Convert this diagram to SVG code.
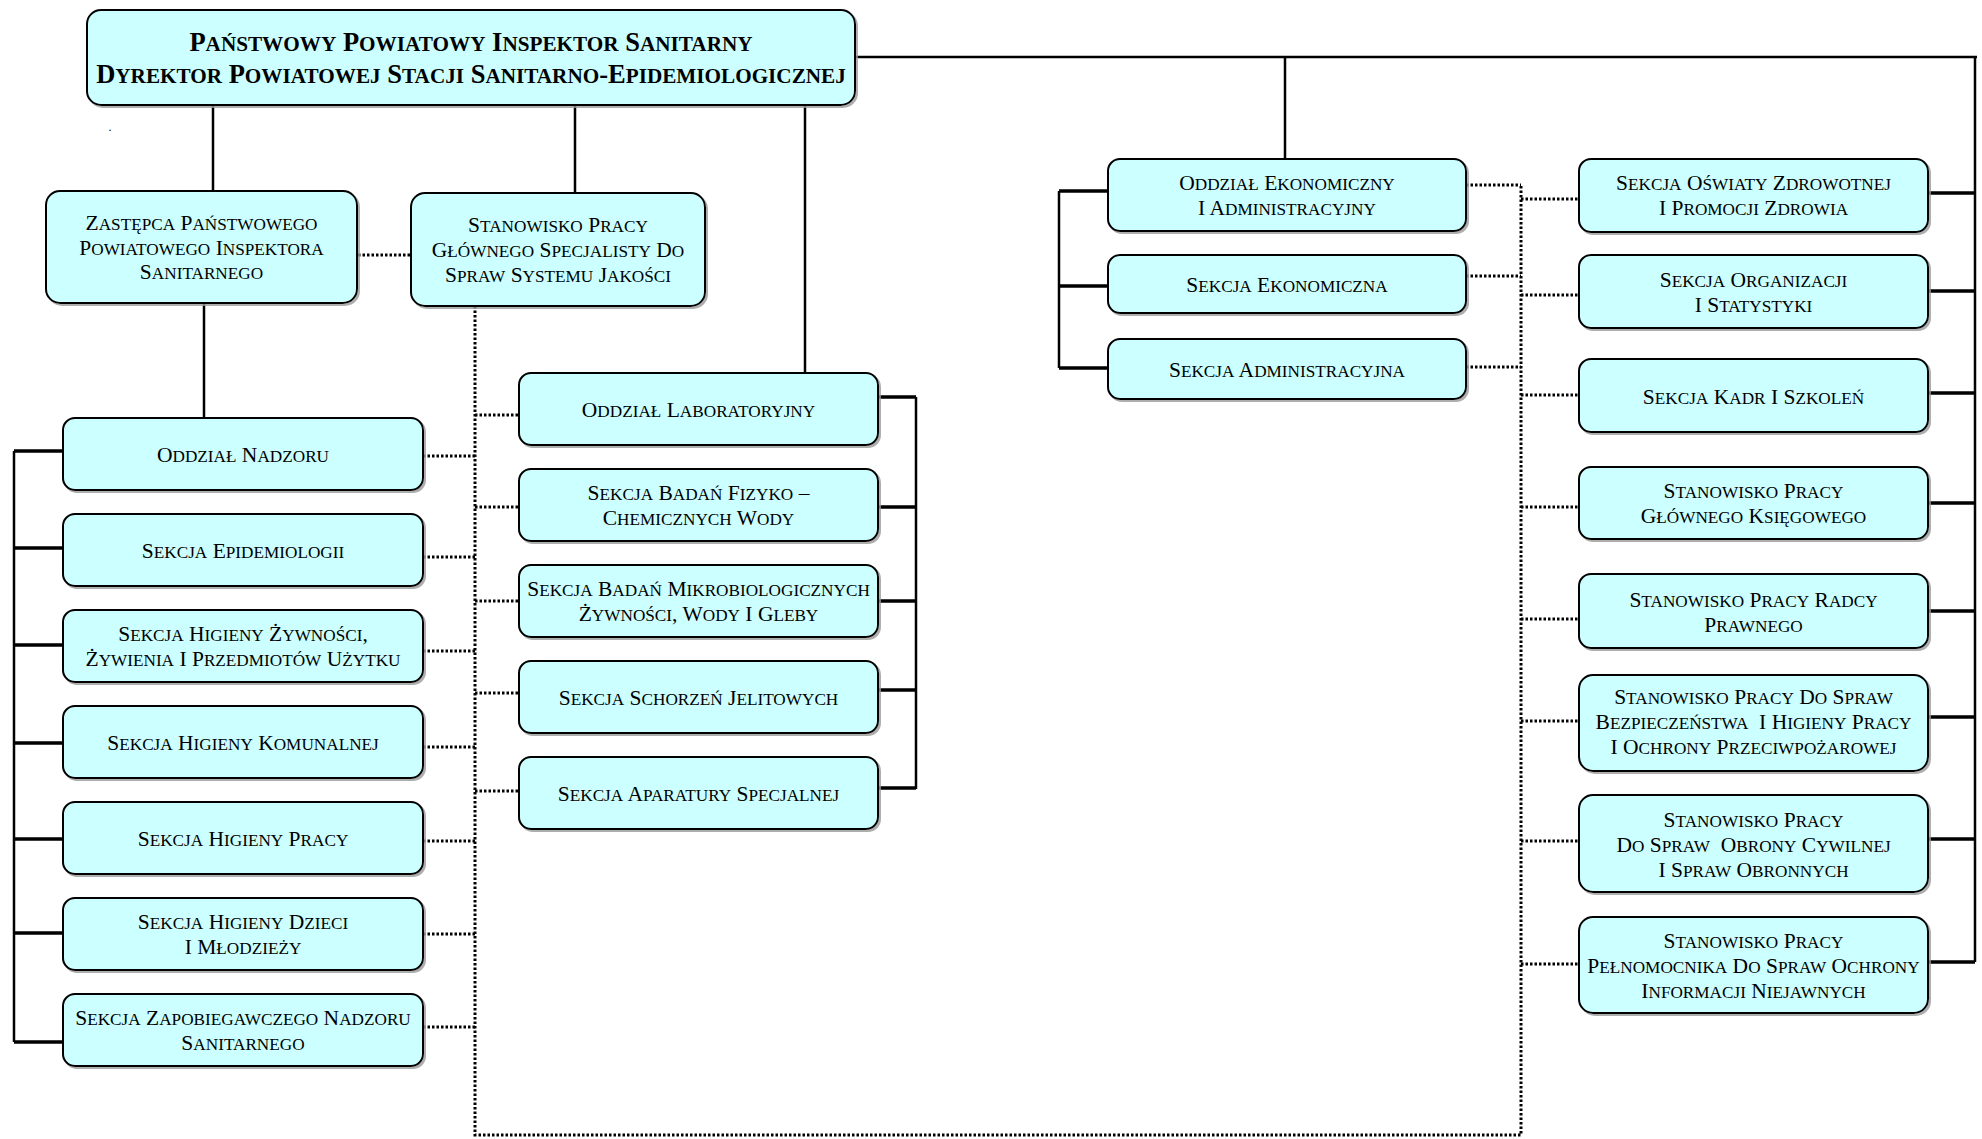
<svg xmlns="http://www.w3.org/2000/svg" width="1982" height="1139" viewBox="0 0 1982 1139">
<defs>
<filter id="sh" x="-5%" y="-5%" width="110%" height="115%">
<feDropShadow dx="2" dy="2" stdDeviation="0.6" flood-color="#9a9a9a" flood-opacity="0.8"/>
</filter>
</defs>
<style>
.box{fill:#CCFFFF;stroke:#000;stroke-width:2;filter:url(#sh)}
.t{font-family:"Liberation Serif","Times New Roman",serif;font-size:21.5px;text-anchor:middle;fill:#000}
.s{font-size:17.2px}
.title{font-weight:bold;font-size:26.5px}
.title .s{font-size:21.2px}
.ln{stroke:#000;stroke-width:2.5;fill:none}
.br{stroke:#000;stroke-width:3.5;fill:none}
.dt{stroke:#000;stroke-width:3;stroke-dasharray:2.5 2;fill:none}
</style>
<rect width="1982" height="1139" fill="#fff"/>

<g id="connectors">
<path class="ln" d="M213 104V191 M575 105V193 M805 104V373 M204 303V418 M855 57H1977 M1975 57V962 M1285 57V159"/>
<path class="ln" d="M14 451V1042 M916 397V789 M1059 191V368"/>
<path class="br" d="M14 451H63 M14 548H63 M14 645H63 M14 743H63 M14 839H63 M14 933H63 M14 1042H63"/>
<path class="br" d="M878 397H916 M878 507H916 M878 601H916 M878 690H916 M878 788H916"/>
<path class="br" d="M1059 191H1108 M1059 286H1108 M1059 368H1108"/>
<path class="br" d="M1928 193H1975 M1928 291H1975 M1928 393H1975 M1928 503H1975 M1928 611H1975 M1928 717H1975 M1928 839H1975 M1928 962H1975"/>
<path class="dt" d="M358 255H410 M475 306V1135 H1521 V185"/>
<path class="dt" d="M423 456H475 M423 557H475 M423 651H475 M423 747H475 M423 841H475 M423 934H475 M423 1027H475"/>
<path class="dt" d="M475 415H519 M475 507H519 M475 601H519 M475 693H519 M475 791H519"/>
<path class="dt" d="M1466 185H1521 M1466 276H1521 M1466 367H1521"/>
<path class="dt" d="M1521 199H1579 M1521 295H1579 M1521 395H1579 M1521 507H1579 M1521 619H1579 M1521 721H1579 M1521 841H1579 M1521 964H1579"/>
</g>

<text class="t" x="110" y="131" style="font-size:12px">.</text>

<g id="main">
<rect class="box" x="87" y="10" width="768" height="95" rx="14"/>
<text class="t title" x="471" y="51">P<tspan class="s">AŃSTWOWY</tspan> P<tspan class="s">OWIATOWY</tspan> I<tspan class="s">NSPEKTOR</tspan> S<tspan class="s">ANITARNY</tspan></text>
<text class="t title" x="471" y="83">D<tspan class="s">YREKTOR</tspan> P<tspan class="s">OWIATOWEJ</tspan> S<tspan class="s">TACJI</tspan> S<tspan class="s">ANITARNO</tspan>-E<tspan class="s">PIDEMIOLOGICZNEJ</tspan></text>
</g>

<g id="zastepca">
<rect class="box" x="46" y="191" width="311" height="112" rx="14"/>
<text class="t" x="201.5" y="230">Z<tspan class="s">ASTĘPCA</tspan> P<tspan class="s">AŃSTWOWEGO</tspan></text>
<text class="t" x="201.5" y="255">P<tspan class="s">OWIATOWEGO</tspan> I<tspan class="s">NSPEKTORA</tspan></text>
<text class="t" x="201.5" y="279">S<tspan class="s">ANITARNEGO</tspan></text>
</g>

<g id="specjalista">
<rect class="box" x="411" y="193" width="294" height="113" rx="14"/>
<text class="t" x="558" y="232">S<tspan class="s">TANOWISKO</tspan> P<tspan class="s">RACY</tspan></text>
<text class="t" x="558" y="257">G<tspan class="s">ŁÓWNEGO</tspan> S<tspan class="s">PECJALISTY</tspan> D<tspan class="s">O</tspan></text>
<text class="t" x="558" y="282">S<tspan class="s">PRAW</tspan> S<tspan class="s">YSTEMU</tspan> J<tspan class="s">AKOŚCI</tspan></text>
</g>

<g id="nadzor">
<rect class="box" x="63" y="418" width="360" height="72" rx="12"/>
<text class="t" x="243" y="462">O<tspan class="s">DDZIAŁ</tspan> N<tspan class="s">ADZORU</tspan></text>
</g>
<g id="epidemiologia">
<rect class="box" x="63" y="514" width="360" height="72" rx="12"/>
<text class="t" x="243" y="558">S<tspan class="s">EKCJA</tspan> E<tspan class="s">PIDEMIOLOGII</tspan></text>
</g>
<g id="zywnosc">
<rect class="box" x="63" y="610" width="360" height="72" rx="12"/>
<text class="t" x="243" y="641">S<tspan class="s">EKCJA</tspan> H<tspan class="s">IGIENY</tspan> Ż<tspan class="s">YWNOŚCI</tspan>,</text>
<text class="t" x="243" y="666">Ż<tspan class="s">YWIENIA</tspan> I P<tspan class="s">RZEDMIOTÓW</tspan> U<tspan class="s">ŻYTKU</tspan></text>
</g>
<g id="komunalna">
<rect class="box" x="63" y="706" width="360" height="72" rx="12"/>
<text class="t" x="243" y="750">S<tspan class="s">EKCJA</tspan> H<tspan class="s">IGIENY</tspan> K<tspan class="s">OMUNALNEJ</tspan></text>
</g>
<g id="praca">
<rect class="box" x="63" y="802" width="360" height="72" rx="12"/>
<text class="t" x="243" y="846">S<tspan class="s">EKCJA</tspan> H<tspan class="s">IGIENY</tspan> P<tspan class="s">RACY</tspan></text>
</g>
<g id="dzieci">
<rect class="box" x="63" y="898" width="360" height="72" rx="12"/>
<text class="t" x="243" y="929">S<tspan class="s">EKCJA</tspan> H<tspan class="s">IGIENY</tspan> D<tspan class="s">ZIECI</tspan></text>
<text class="t" x="243" y="954">I M<tspan class="s">ŁODZIEŻY</tspan></text>
</g>
<g id="zapobiegawczy">
<rect class="box" x="63" y="994" width="360" height="72" rx="12"/>
<text class="t" x="243" y="1025">S<tspan class="s">EKCJA</tspan> Z<tspan class="s">APOBIEGAWCZEGO</tspan> N<tspan class="s">ADZORU</tspan></text>
<text class="t" x="243" y="1050">S<tspan class="s">ANITARNEGO</tspan></text>
</g>

<g id="laboratorium">
<rect class="box" x="519" y="373" width="359" height="72" rx="12"/>
<text class="t" x="698.5" y="417">O<tspan class="s">DDZIAŁ</tspan> L<tspan class="s">ABORATORYJNY</tspan></text>
</g>
<g id="fizykochem">
<rect class="box" x="519" y="469" width="359" height="72" rx="12"/>
<text class="t" x="698.5" y="500">S<tspan class="s">EKCJA</tspan> B<tspan class="s">ADAŃ</tspan> F<tspan class="s">IZYKO</tspan> –</text>
<text class="t" x="698.5" y="525">C<tspan class="s">HEMICZNYCH</tspan> W<tspan class="s">ODY</tspan></text>
</g>
<g id="mikrobiologia">
<rect class="box" x="519" y="565" width="359" height="72" rx="12"/>
<text class="t" x="698.5" y="596">S<tspan class="s">EKCJA</tspan> B<tspan class="s">ADAŃ</tspan> M<tspan class="s">IKROBIOLOGICZNYCH</tspan></text>
<text class="t" x="698.5" y="621">Ż<tspan class="s">YWNOŚCI</tspan>, W<tspan class="s">ODY</tspan> I G<tspan class="s">LEBY</tspan></text>
</g>
<g id="jelitowe">
<rect class="box" x="519" y="661" width="359" height="72" rx="12"/>
<text class="t" x="698.5" y="705">S<tspan class="s">EKCJA</tspan> S<tspan class="s">CHORZEŃ</tspan> J<tspan class="s">ELITOWYCH</tspan></text>
</g>
<g id="aparatura">
<rect class="box" x="519" y="757" width="359" height="72" rx="12"/>
<text class="t" x="698.5" y="801">S<tspan class="s">EKCJA</tspan> A<tspan class="s">PARATURY</tspan> S<tspan class="s">PECJALNEJ</tspan></text>
</g>

<g id="ekonomiczny">
<rect class="box" x="1108" y="159" width="358" height="72" rx="12"/>
<text class="t" x="1287" y="190">O<tspan class="s">DDZIAŁ</tspan> E<tspan class="s">KONOMICZNY</tspan></text>
<text class="t" x="1287" y="215">I A<tspan class="s">DMINISTRACYJNY</tspan></text>
</g>
<g id="sekcja-ekonomiczna">
<rect class="box" x="1108" y="255" width="358" height="58" rx="12"/>
<text class="t" x="1287" y="292">S<tspan class="s">EKCJA</tspan> E<tspan class="s">KONOMICZNA</tspan></text>
</g>
<g id="sekcja-administracyjna">
<rect class="box" x="1108" y="339" width="358" height="60" rx="12"/>
<text class="t" x="1287" y="377">S<tspan class="s">EKCJA</tspan> A<tspan class="s">DMINISTRACYJNA</tspan></text>
</g>

<g id="oswiata">
<rect class="box" x="1579" y="159" width="349" height="73" rx="12"/>
<text class="t" x="1753.5" y="190">S<tspan class="s">EKCJA</tspan> O<tspan class="s">ŚWIATY</tspan> Z<tspan class="s">DROWOTNEJ</tspan></text>
<text class="t" x="1753.5" y="215">I P<tspan class="s">ROMOCJI</tspan> Z<tspan class="s">DROWIA</tspan></text>
</g>
<g id="organizacja">
<rect class="box" x="1579" y="255" width="349" height="73" rx="12"/>
<text class="t" x="1753.5" y="287">S<tspan class="s">EKCJA</tspan> O<tspan class="s">RGANIZACJI</tspan></text>
<text class="t" x="1753.5" y="312">I S<tspan class="s">TATYSTYKI</tspan></text>
</g>
<g id="kadry">
<rect class="box" x="1579" y="359" width="349" height="73" rx="12"/>
<text class="t" x="1753.5" y="404">S<tspan class="s">EKCJA</tspan> K<tspan class="s">ADR</tspan> I S<tspan class="s">ZKOLEŃ</tspan></text>
</g>
<g id="ksiegowy">
<rect class="box" x="1579" y="467" width="349" height="72" rx="12"/>
<text class="t" x="1753.5" y="498">S<tspan class="s">TANOWISKO</tspan> P<tspan class="s">RACY</tspan></text>
<text class="t" x="1753.5" y="523">G<tspan class="s">ŁÓWNEGO</tspan> K<tspan class="s">SIĘGOWEGO</tspan></text>
</g>
<g id="radca">
<rect class="box" x="1579" y="574" width="349" height="74" rx="12"/>
<text class="t" x="1753.5" y="607">S<tspan class="s">TANOWISKO</tspan> P<tspan class="s">RACY</tspan> R<tspan class="s">ADCY</tspan></text>
<text class="t" x="1753.5" y="632">P<tspan class="s">RAWNEGO</tspan></text>
</g>
<g id="bhp">
<rect class="box" x="1579" y="675" width="349" height="96" rx="14"/>
<text class="t" x="1753.5" y="704">S<tspan class="s">TANOWISKO</tspan> P<tspan class="s">RACY</tspan> D<tspan class="s">O</tspan> S<tspan class="s">PRAW</tspan></text>
<text class="t" x="1753.5" y="729" xml:space="preserve">B<tspan class="s">EZPIECZEŃSTWA</tspan>  I H<tspan class="s">IGIENY</tspan> P<tspan class="s">RACY</tspan></text>
<text class="t" x="1753.5" y="754">I O<tspan class="s">CHRONY</tspan> P<tspan class="s">RZECIWPOŻAROWEJ</tspan></text>
</g>
<g id="obrona">
<rect class="box" x="1579" y="795" width="349" height="97" rx="14"/>
<text class="t" x="1753.5" y="827">S<tspan class="s">TANOWISKO</tspan> P<tspan class="s">RACY</tspan></text>
<text class="t" x="1753.5" y="852" xml:space="preserve">D<tspan class="s">O</tspan> S<tspan class="s">PRAW</tspan>  O<tspan class="s">BRONY</tspan> C<tspan class="s">YWILNEJ</tspan></text>
<text class="t" x="1753.5" y="877">I S<tspan class="s">PRAW</tspan> O<tspan class="s">BRONNYCH</tspan></text>
</g>
<g id="pelnomocnik">
<rect class="box" x="1579" y="917" width="349" height="96" rx="14"/>
<text class="t" x="1753.5" y="948">S<tspan class="s">TANOWISKO</tspan> P<tspan class="s">RACY</tspan></text>
<text class="t" x="1753.5" y="973">P<tspan class="s">EŁNOMOCNIKA</tspan> D<tspan class="s">O</tspan> S<tspan class="s">PRAW</tspan> O<tspan class="s">CHRONY</tspan></text>
<text class="t" x="1753.5" y="998">I<tspan class="s">NFORMACJI</tspan> N<tspan class="s">IEJAWNYCH</tspan></text>
</g>
</svg>
